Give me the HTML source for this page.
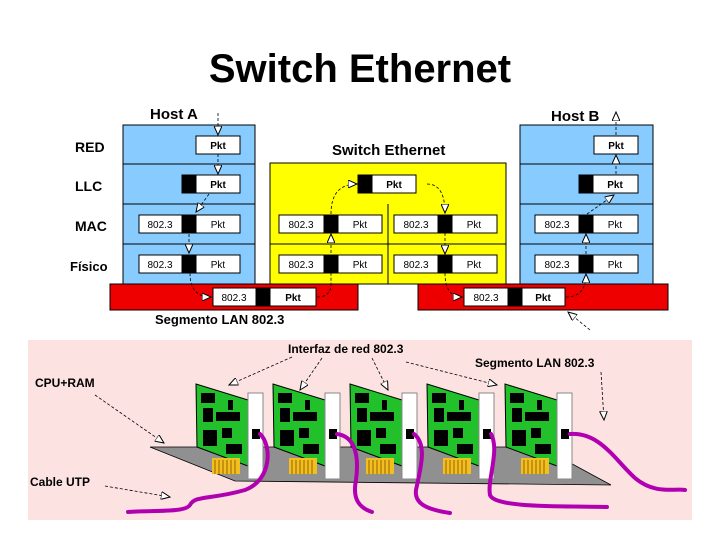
<!DOCTYPE html>
<html><head><meta charset="utf-8"><style>
body{margin:0;background:#fff;}
svg{display:block;}
text{font-family:"Liberation Sans",sans-serif;}
</style></head><body>
<svg width="720" height="540" viewBox="0 0 720 540" xmlns="http://www.w3.org/2000/svg">
<defs>
<marker id="ah" markerWidth="10" markerHeight="8" refX="9" refY="4" orient="auto" markerUnits="userSpaceOnUse">
<path d="M0,0 L9,4 L0,8 Z" fill="#fff" stroke="#000" stroke-width="1"/></marker>
<g id="card">
<polygon points="196,384 248,400 248,466 197,447" fill="#22c02a" stroke="#000" stroke-width="1"/>
<rect x="201" y="393" width="14" height="10" fill="#000"/>
<rect x="203" y="408" width="10" height="14" fill="#000"/>
<rect x="216" y="412" width="24" height="9" fill="#000"/>
<rect x="228" y="400" width="5" height="10" fill="#000"/>
<rect x="203" y="430" width="14" height="16" fill="#000"/>
<rect x="222" y="428" width="10" height="10" fill="#000"/>
<rect x="226" y="444" width="16" height="10" fill="#000"/>
<rect x="212" y="458" width="28" height="16" fill="#f0c020"/>
<path d="M215,460v14M219,460v14M223,460v14M227,460v14M231,460v14M235,460v14" stroke="#a06000" stroke-width="1"/>
<rect x="248" y="393" width="15" height="86" fill="#fff" stroke="#888" stroke-width="1"/>
<rect x="252" y="429" width="8" height="10" fill="#000"/>
</g>
</defs>

<text x="360" y="82" font-size="40" text-anchor="middle" font-weight="bold">Switch Ethernet</text>

<g font-size="14" font-weight="bold">
<text x="75" y="152">RED</text><text x="75" y="191">LLC</text><text x="75" y="231">MAC</text><text x="70" y="271" font-size="13">Físico</text>
<text x="150" y="119" font-size="15">Host A</text>
<text x="551" y="121" font-size="15">Host B</text>
<text x="332" y="155" font-size="15">Switch Ethernet</text>
<text x="155" y="324" font-size="13">Segmento LAN 802.3</text>
</g>

<rect x="123" y="125" width="132" height="160" fill="#88ccff" stroke="#000"/>
<path d="M123,164h132M123,204h132M123,244h132" stroke="#000"/>
<rect x="520" y="125" width="133" height="160" fill="#88ccff" stroke="#000"/>
<path d="M520,164h133M520,204h133M520,244h133" stroke="#000"/>
<rect x="270" y="163" width="236" height="121" fill="#ffff00" stroke="#000"/>
<path d="M388,204v80M270,244h236" stroke="#000"/>
<rect x="110" y="284" width="248" height="26" fill="#ee0000" stroke="#000"/>
<rect x="418" y="284" width="250" height="26" fill="#ee0000" stroke="#000"/>

<g font-size="10" stroke="#000">
<rect x="196" y="136" width="44" height="18" fill="#fff"/>
<rect x="182" y="175" width="14" height="18" fill="#000"/><rect x="196" y="175" width="44" height="18" fill="#fff"/>
<rect x="139" y="215" width="43" height="18" fill="#fff"/><rect x="182" y="215" width="14" height="18" fill="#000"/><rect x="196" y="215" width="44" height="18" fill="#fff"/>
<rect x="139" y="255" width="43" height="18" fill="#fff"/><rect x="182" y="255" width="14" height="18" fill="#000"/><rect x="196" y="255" width="44" height="18" fill="#fff"/>
<rect x="213" y="288" width="43" height="18" fill="#fff"/><rect x="256" y="288" width="14" height="18" fill="#000"/><rect x="270" y="288" width="46" height="18" fill="#fff"/>
<rect x="358" y="175" width="14" height="18" fill="#000"/><rect x="372" y="175" width="44" height="18" fill="#fff"/>
<rect x="279" y="215" width="45" height="18" fill="#fff"/><rect x="324" y="215" width="14" height="18" fill="#000"/><rect x="338" y="215" width="44" height="18" fill="#fff"/>
<rect x="279" y="255" width="45" height="18" fill="#fff"/><rect x="324" y="255" width="14" height="18" fill="#000"/><rect x="338" y="255" width="44" height="18" fill="#fff"/>
<rect x="394" y="215" width="44" height="18" fill="#fff"/><rect x="438" y="215" width="14" height="18" fill="#000"/><rect x="452" y="215" width="45" height="18" fill="#fff"/>
<rect x="394" y="255" width="44" height="18" fill="#fff"/><rect x="438" y="255" width="14" height="18" fill="#000"/><rect x="452" y="255" width="45" height="18" fill="#fff"/>
<rect x="594" y="136" width="44" height="18" fill="#fff"/>
<rect x="579" y="175" width="14" height="18" fill="#000"/><rect x="593" y="175" width="45" height="18" fill="#fff"/>
<rect x="535" y="215" width="44" height="18" fill="#fff"/><rect x="579" y="215" width="14" height="18" fill="#000"/><rect x="593" y="215" width="45" height="18" fill="#fff"/>
<rect x="535" y="255" width="44" height="18" fill="#fff"/><rect x="579" y="255" width="14" height="18" fill="#000"/><rect x="593" y="255" width="45" height="18" fill="#fff"/>
<rect x="464" y="288" width="44" height="18" fill="#fff"/><rect x="508" y="288" width="14" height="18" fill="#000"/><rect x="522" y="288" width="43" height="18" fill="#fff"/>
</g>
<g font-size="10" text-anchor="middle" fill="#000">
<text x="218" y="149" font-weight="bold">Pkt</text><text x="218" y="188" font-weight="bold">Pkt</text>
<text x="160" y="228">802.3</text><text x="218" y="228">Pkt</text>
<text x="160" y="268">802.3</text><text x="218" y="268">Pkt</text>
<text x="234" y="301">802.3</text><text x="293" y="301" font-weight="bold">Pkt</text>
<text x="394" y="188" font-weight="bold">Pkt</text>
<text x="301" y="228">802.3</text><text x="360" y="228">Pkt</text>
<text x="301" y="268">802.3</text><text x="360" y="268">Pkt</text>
<text x="416" y="228">802.3</text><text x="474" y="228">Pkt</text>
<text x="416" y="268">802.3</text><text x="474" y="268">Pkt</text>
<text x="616" y="149" font-weight="bold">Pkt</text><text x="615" y="188" font-weight="bold">Pkt</text>
<text x="557" y="228">802.3</text><text x="615" y="228">Pkt</text>
<text x="557" y="268">802.3</text><text x="615" y="268">Pkt</text>
<text x="486" y="301">802.3</text><text x="543" y="301" font-weight="bold">Pkt</text>
</g>

<g fill="none" stroke="#000" stroke-width="0.8" stroke-dasharray="3,2">
<path d="M218,113V135" marker-end="url(#ah)"/>
<path d="M218,154V174" marker-end="url(#ah)"/>
<path d="M209,194L196,212" marker-end="url(#ah)"/>
<path d="M189,234V253" marker-end="url(#ah)"/>
<path d="M190,273 Q190,297 211,297" marker-end="url(#ah)"/>
<path d="M317,297 Q331,297 331,284 V273"/>
<path d="M331,273V234" marker-end="url(#ah)"/>
<path d="M331,214 Q331,184 357,184" marker-end="url(#ah)"/>
<path d="M427,184 Q445,184 445,213" marker-end="url(#ah)"/>
<path d="M445,233V254" marker-end="url(#ah)"/>
<path d="M445,273 Q445,297 462,297" marker-end="url(#ah)"/>
<path d="M566,297 Q586,297 586,274" marker-end="url(#ah)"/>
<path d="M586,254V234" marker-end="url(#ah)"/>
<path d="M587,214L614,195" marker-end="url(#ah)"/>
<path d="M616,174V155" marker-end="url(#ah)"/>
<path d="M616,135V112" marker-end="url(#ah)"/>
<path d="M590,330L568,312" marker-end="url(#ah)"/>
</g>

<rect x="28" y="340" width="664" height="180" fill="#fde2e2"/>
<polygon points="150,447 541,447 611,485 235,481" fill="#909090" stroke="#000" stroke-width="0.8"/>
<use href="#card"/>
<use href="#card" transform="translate(77,0)"/>
<use href="#card" transform="translate(154,0)"/>
<use href="#card" transform="translate(231,0)"/>
<use href="#card" transform="translate(309,0)"/>

<g fill="none" stroke="#b000b0" stroke-width="4" stroke-linecap="round">
<path d="M260,434 C272,445 272,480 245,490 C210,500 195,495 190,505 C185,513 150,510 128,512"/>
<path d="M337,434 C352,436 360,450 356,480 C352,500 360,508 372,512"/>
<path d="M414,434 C428,445 420,470 416,490 C414,505 430,510 450,513"/>
<path d="M491,434 C500,450 487,480 490,495 C495,508 560,506 607,507"/>
<path d="M570,434 C600,432 615,460 635,478 C655,495 675,488 685,490"/>
</g>

<g font-size="12" fill="#000" font-weight="bold">
<text x="288" y="353">Interfaz de red 802.3</text>
<text x="475" y="367">Segmento LAN 802.3</text>
<text x="35" y="387">CPU+RAM</text>
<text x="30" y="486">Cable UTP</text>
</g>
<g fill="none" stroke="#000" stroke-width="0.8" stroke-dasharray="3,2">
<path d="M292,357L229,385" marker-end="url(#ah)"/>
<path d="M322,358L300,390" marker-end="url(#ah)"/>
<path d="M372,358L388,390" marker-end="url(#ah)"/>
<path d="M406,362L497,385" marker-end="url(#ah)"/>
<path d="M601,372L604,420" marker-end="url(#ah)"/>
<path d="M95,395L164,443" marker-end="url(#ah)"/>
<path d="M105,486L170,497" marker-end="url(#ah)"/>
</g>
</svg>
</body></html>
